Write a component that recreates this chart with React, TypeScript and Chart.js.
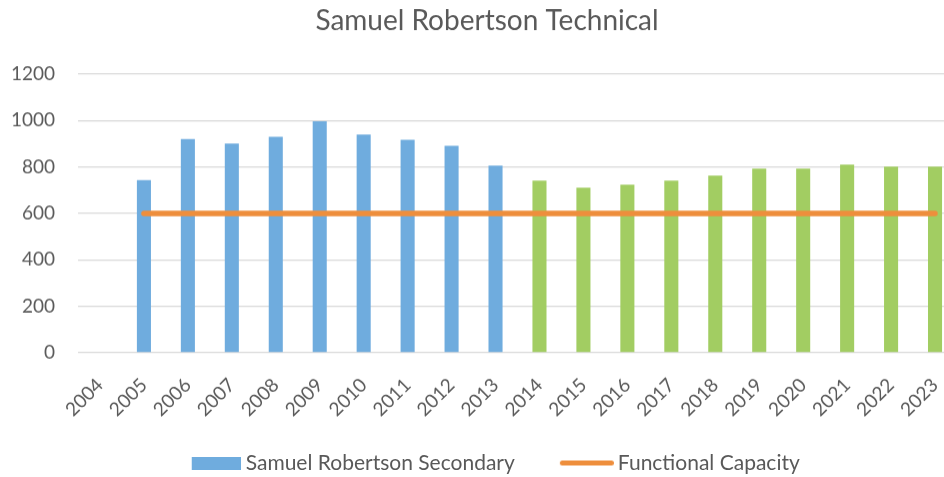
import { useEffect, useRef } from 'react';
import { Chart, registerables } from 'chart.js';

Chart.register(...registerables);

const years = ['2004', '2005', '2006', '2007', '2008', '2009', '2010', '2011', '2012', '2013', '2014', '2015', '2016', '2017', '2018', '2019', '2020', '2021', '2022', '2023'];
const actualEnrolment = [null, 744, 921, 901, 930, 997, 940, 917, 891, 806, null, null, null, null, null, null, null, null, null, null];
const projectedEnrolment = [null, null, null, null, null, null, null, null, null, null, 741, 711, 724, 741, 763, 793, 793, 810, 802, 802];
const functionalCapacity = [null, 600, 600, 600, 600, 600, 600, 600, 600, 600, 600, 600, 600, 600, 600, 600, 600, 600, 600, 600];
const yTicks = [0, 200, 400, 600, 800, 1000, 1200];

const FONT = 'Lato, "Noto Sans", sans-serif';
const TEXT = '#595959';
const BLUE = '#6FACDE';
const GREEN = '#A2CD62';
const ORANGE = '#EE8E3C';

const SWATCH_SLOT = 61;

function makeSwatch(kind: 'rect' | 'line', color: string): HTMLCanvasElement {
  const c = document.createElement('canvas');
  if (kind === 'rect') {
    const w = SWATCH_SLOT + 11;
    c.width = w;
    c.height = 13;
    const g = c.getContext('2d') as CanvasRenderingContext2D;
    g.fillStyle = color;
    g.fillRect(w - 49, 0, 49, 13);
  } else {
    const w = SWATCH_SLOT + 13;
    c.width = w;
    c.height = 7;
    const g = c.getContext('2d') as CanvasRenderingContext2D;
    g.strokeStyle = color;
    g.lineWidth = 5;
    g.lineCap = 'round';
    g.beginPath();
    g.moveTo(w - 54 + 2.5, 3.5);
    g.lineTo(w - 2.5, 3.5);
    g.stroke();
  }
  return c;
}

export default function App() {
  const ref = useRef<HTMLCanvasElement>(null);
  useEffect(() => {
    const blueSwatch = makeSwatch('rect', BLUE);
    const orangeSwatch = makeSwatch('line', ORANGE);
    const chart = new Chart(ref.current as HTMLCanvasElement, {
      type: 'bar',
      data: {
        labels: years,
        datasets: [
          {
            type: 'line',
            label: 'Functional Capacity',
            data: functionalCapacity,
            borderColor: ORANGE,
            backgroundColor: ORANGE,
            borderWidth: 5.5,
            borderCapStyle: 'round',
            pointRadius: 0,
            pointHoverRadius: 0,
            order: 0,
          } as any,
          {
            label: 'Samuel Robertson Secondary',
            data: actualEnrolment,
            backgroundColor: BLUE,
            grouped: false,
            barPercentage: 0.32,
            categoryPercentage: 1,
            order: 1,
          } as any,
          {
            label: 'Projected',
            data: projectedEnrolment,
            backgroundColor: GREEN,
            grouped: false,
            barPercentage: 0.32,
            categoryPercentage: 1,
            order: 1,
          } as any,
        ],
      },
      options: {
        animation: false,
        responsive: true,
        maintainAspectRatio: false,
        layout: { padding: { left: 0, right: 6, top: 0, bottom: 0 } },
        plugins: {
          tooltip: { enabled: false },
          title: {
            display: true,
            text: 'Samuel Robertson Technical',
            color: TEXT,
            font: { family: FONT, size: 28, weight: 'normal' },
            padding: { top: 4, bottom: 36.4 },
          },
          legend: {
            position: 'bottom',
            labels: {
              usePointStyle: true,
              pointStyleWidth: SWATCH_SLOT,
              boxHeight: 13,
              padding: 31.5,
              color: TEXT,
              font: { family: FONT, size: 21 },
              generateLabels: () => [
                {
                  text: 'Samuel Robertson Secondary',
                  fillStyle: BLUE,
                  strokeStyle: BLUE,
                  lineWidth: 0,
                  pointStyle: blueSwatch,
                  datasetIndex: 1,
                  fontColor: TEXT,
                  hidden: false,
                } as any,
                {
                  text: 'Functional Capacity',
                  fillStyle: ORANGE,
                  strokeStyle: ORANGE,
                  lineWidth: 0,
                  pointStyle: orangeSwatch,
                  datasetIndex: 0,
                  fontColor: TEXT,
                  hidden: false,
                } as any,
              ],
            },
          },
        },
        scales: {
          x: {
            offset: true,
            grid: { display: false },
            border: { display: false },
            ticks: {
              color: TEXT,
              font: { family: FONT, size: 19 },
              maxRotation: 45,
              minRotation: 45,
              autoSkip: false,
              padding: 13,
            },
            afterFit: (s: any) => {
              s.height = 68;
            },
          },
          y: {
            min: 0,
            max: 1200,
            afterBuildTicks: (s: any) => {
              s.ticks = yTicks.map((v) => ({ value: v }));
            },
            grid: { color: '#D9D9D9', lineWidth: 1.3, drawTicks: false },
            border: { display: false },
            ticks: {
              color: TEXT,
              font: { family: FONT, size: 19 },
              padding: 23,
              callback: (v: any) => String(v),
            },
            afterFit: (s: any) => {
              s.width = 78;
            },
          },
          yRight: {
            position: 'right',
            min: 0,
            max: 1200,
            grid: { display: false, drawTicks: false },
            border: { display: false },
            ticks: { display: false },
            afterFit: (s: any) => {
              s.width = 17;
            },
          },
        },
      },
    });
    return () => chart.destroy();
  }, []);
  return (
    <div style={{ position: 'fixed', left: 0, top: 0, width: 980, height: 482.5, background: '#fff' }}>
      <canvas ref={ref} />
    </div>
  );
}
